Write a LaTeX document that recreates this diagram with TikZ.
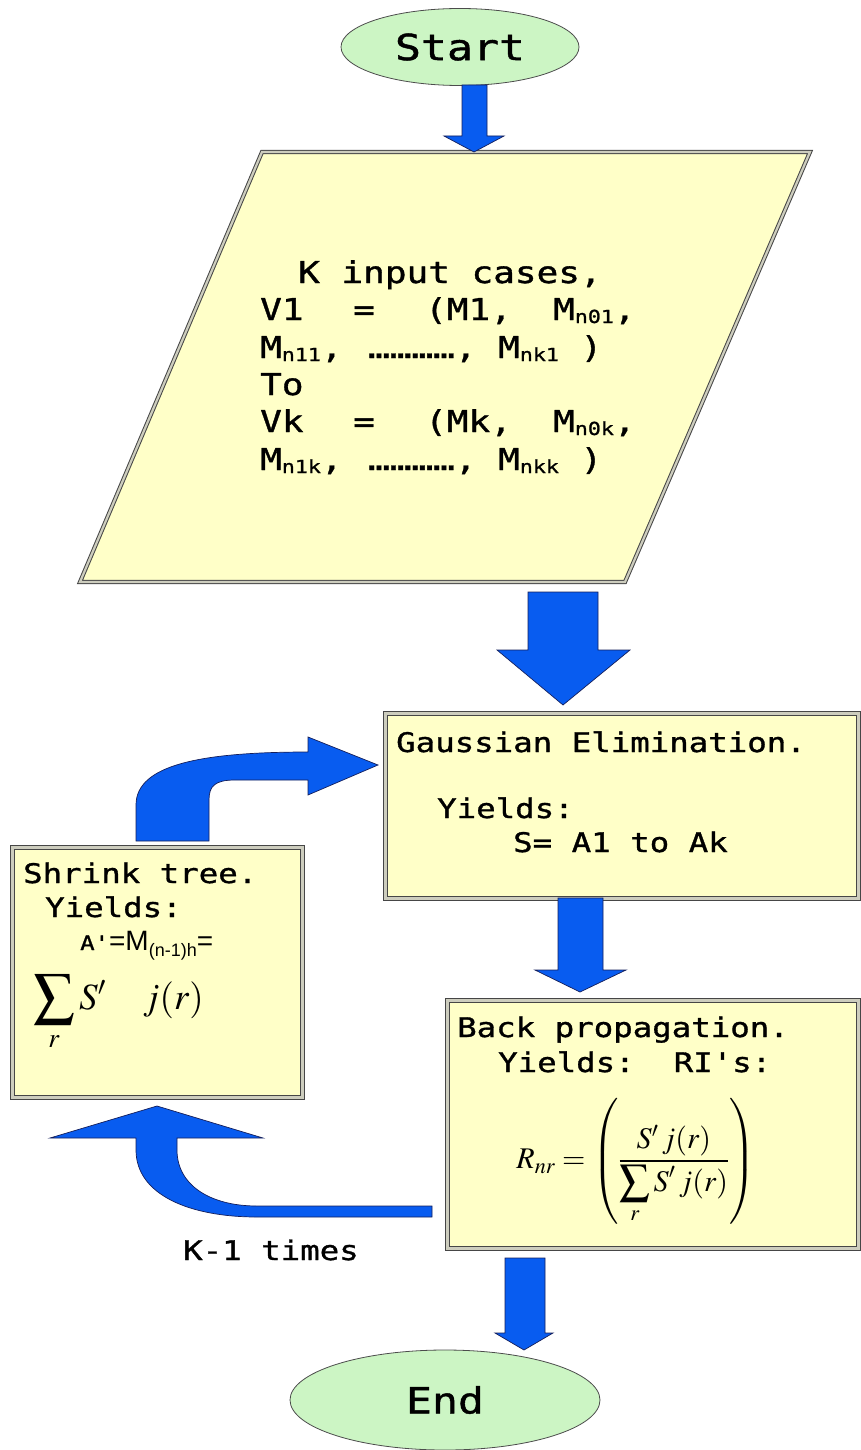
\documentclass[tikz,border=0pt]{standalone}
\usepackage{amsmath}
\usepackage{mathptmx}
\usepackage{fontspec}
\usetikzlibrary{shapes.geometric}
\newfontfamily\mono[FakeStretch=1.2,FakeBold=1.2]{DejaVu Sans Mono}
\newfontfamily\arialfont{Liberation Sans}
\definecolor{arrowblue}{RGB}{8,92,240}
\definecolor{arrowedge}{RGB}{20,30,90}
\definecolor{boxfill}{RGB}{255,255,200}
\definecolor{boxedge}{RGB}{70,70,70}
\definecolor{boxinner}{RGB}{205,205,190}
\definecolor{ovalfill}{RGB}{204,245,196}
\newcommand\msub[1]{\raisebox{-3pt}{\fontsize{18}{18}\selectfont #1}}
\newcommand\bigsum{\mathop{\vcenter{\hbox{\scalebox{1.1}{$\displaystyle\sum$}}}}\limits}
\begin{document}
\begin{tikzpicture}[x=1pt,y=-1pt,
  blockarrow/.style={fill=arrowblue,draw=arrowedge,line width=0.7pt,line join=miter},
  procbox/.style={draw=boxedge,double=boxinner,double distance=2.2pt,line width=1pt,fill=boxfill},
  oval/.style={ellipse,draw=black!70,fill=ovalfill,line width=0.8pt,inner sep=0pt},
  ptxt/.style={anchor=base west,inner sep=0pt,font=\mono\fontsize{30}{34}\selectfont},
  gtxt/.style={anchor=base west,inner sep=0pt,font=\mono\fontsize{27}{32}\selectfont}]
\useasboundingbox (0,0) rectangle (861,1450);

% Start / End
\node[oval,minimum width=238pt,minimum height=77pt] (start) at (460,47) {\mono\fontsize{36}{36}\selectfont Start};
\node[oval,minimum width=310pt,minimum height=100pt] (end) at (445,1400) {\mono\fontsize{36}{36}\selectfont End};

% parallelogram
\draw[procbox] (262,152) -- (810,152) -- (625,582) -- (80,582) -- cycle;
\node[ptxt] (k1) at (298,283) {K input cases,};
\node[ptxt] (k2) at (260,320) {\makebox[93pt][l]{V1}\makebox[72pt][l]{=}\makebox[128pt][l]{(M1,}M\msub{n01},};
\node[ptxt] (k3) at (260,358) {\makebox[108pt][l]{M\msub{n11},}\makebox[130pt][l]{…………,}M\msub{nk1} )};
\node[ptxt] (k4) at (260,395) {To};
\node[ptxt] (k5) at (260,432) {\makebox[93pt][l]{Vk}\makebox[72pt][l]{=}\makebox[128pt][l]{(Mk,}M\msub{n0k},};
\node[ptxt] (k6) at (260,470) {\makebox[108pt][l]{M\msub{n1k},}\makebox[130pt][l]{…………,}M\msub{nkk} )};

% boxes
\node[procbox,anchor=north west,minimum width=473pt,minimum height=185pt] (gauss) at (385,713) {};
\node[procbox,anchor=north west,minimum width=411pt,minimum height=248pt] (back) at (447,1000) {};
\node[procbox,anchor=north west,minimum width=290pt,minimum height=250pt] (shrink) at (12,847) {};

% Gaussian text
\node[gtxt] (g1) at (396,752) {Gaussian Elimination.};
\node[gtxt] (g2) at (437,818) {Yields:};
\node[gtxt] (g3) at (513,852) {S= A1 to Ak};

% Back propagation text
\node[gtxt] (b1) at (457,1037) {Back propagation.};
\node[gtxt] (b2) at (498,1072) {Yields:~~RI's:};
\node[inner sep=0pt] (bf) at (636,1161) {\fontsize{30}{33}\selectfont$R_{nr}=\left(\dfrac{S'\,j(r)}{\displaystyle\sum_r S'\,j(r)}\right)$};

% Shrink tree text
\node[gtxt] (s1) at (23,883) {Shrink tree.};
\node[gtxt] (s2) at (45,917) {Yields:};
\node[anchor=base west,inner sep=0pt] (s3) at (80,950) {{\mono\fontsize{20}{20}\selectfont A'}{\arialfont\fontsize{28}{28}\selectfont =M\raisebox{-6pt}{\fontsize{18}{18}\selectfont (n-1)h}=}};
\node[anchor=base west,inner sep=0pt] (s4) at (33,1009) {\fontsize{37}{40}\selectfont$\bigsum_{r} S'\quad j(r)$};

% K-1 times
\node[gtxt] (kt) at (183,1260) {K-1 times};

% straight block arrows
\draw[blockarrow] (462,85) -- (487,85) -- (487,136) -- (504,136) -- (474,152) -- (444,136) -- (462,136) -- cycle;
\draw[blockarrow] (528,592) -- (598,592) -- (598,650) -- (630,650) -- (563,705) -- (497,650) -- (528,650) -- cycle;
\draw[blockarrow] (558,898) -- (603,898) -- (603,970) -- (626,970) -- (580,992) -- (535,970) -- (558,970) -- cycle;
\draw[blockarrow] (505,1258) -- (545,1258) -- (545,1333) -- (553,1333) -- (524,1350) -- (495,1333) -- (505,1333) -- cycle;

% curved arrow up to Gaussian
\draw[blockarrow] (136,841) -- (136,805) .. controls (136,765) and (200,752) .. (308,752)
  -- (308,737) -- (378,765) -- (308,795) -- (308,780) -- (235,780)
  .. controls (215,780) and (209,786) .. (209,800) -- (209,841) -- cycle;

% curved arrow back to Shrink tree
\draw[blockarrow] (432,1206) -- (257,1206) .. controls (210,1206) and (177,1185) .. (177,1150)
  -- (177,1138) -- (263,1138) -- (157,1106) -- (50,1138) -- (136,1138) -- (136,1150)
  .. controls (136,1195) and (190,1217) .. (257,1217) -- (432,1217) -- cycle;
\end{tikzpicture}
\end{document}
